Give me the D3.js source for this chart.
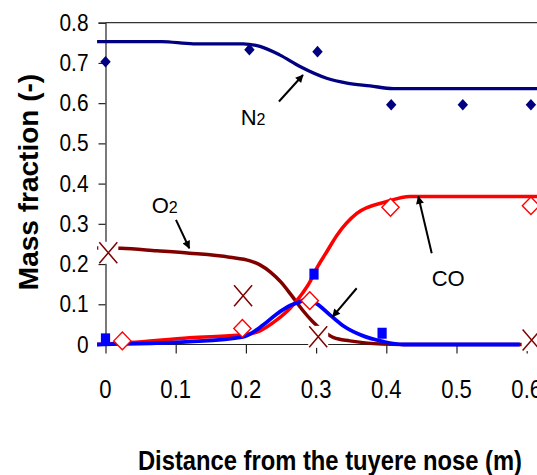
<!DOCTYPE html>
<html>
<head>
<meta charset="utf-8">
<script src="https://cdn.jsdelivr.net/npm/d3@7/dist/d3.min.js"></script>
<style>
  html, body { margin: 0; padding: 0; background: #fff; }
  svg { display: block; }
  text { font-family: "Liberation Sans", Arial, sans-serif; fill: #000; }
</style>
</head>
<body>
<script>
// ---------- data ----------
const xTicks = [0, 0.1, 0.2, 0.3, 0.4, 0.5, 0.6];
const xTickLabels = ["0", "0.1", "0.2", "0.3", "0.4", "0.5", "0.6"];
const yTicks = [0, 0.1, 0.2, 0.3, 0.4, 0.5, 0.6, 0.7, 0.8];
const yTickLabels = ["0", "0.1", "0.2", "0.3", "0.4", "0.5", "0.6", "0.7", "0.8"];

// model curves
const n2ModelX = [-0.012, 0.08, 0.125, 0.196, 0.22, 0.248, 0.277, 0.315, 0.344, 0.377, 0.41, 0.62];
const n2ModelY = [0.753, 0.753, 0.7475, 0.7475, 0.741, 0.72, 0.691, 0.662, 0.650, 0.643, 0.636, 0.636];

const o2ModelX = [-0.012, 0.022, 0.073, 0.12, 0.177, 0.206, 0.22, 0.235, 0.25, 0.265, 0.28, 0.295, 0.31, 0.325, 0.348, 0.395, 0.42, 0.62];
const o2ModelY = [0.240, 0.239, 0.233, 0.227, 0.217, 0.208, 0.198, 0.180, 0.155, 0.122, 0.087, 0.057, 0.033, 0.017, 0.009, 0.001, 0.0, 0.0];

const coModelX = [-0.012, 0.035, 0.12, 0.196, 0.22, 0.244, 0.263, 0.277, 0.291, 0.301, 0.315, 0.329, 0.358, 0.40, 0.434, 0.62];
const coModelY = [0.0, 0.005, 0.017, 0.024, 0.034, 0.061, 0.090, 0.119, 0.155, 0.190, 0.230, 0.270, 0.326, 0.355, 0.368, 0.368];

const co2ModelX = [-0.012, 0.12, 0.196, 0.225, 0.244, 0.263, 0.277, 0.284, 0.301, 0.32, 0.339, 0.363, 0.396, 0.424, 0.59];
const co2ModelY = [0.0, 0.007, 0.019, 0.049, 0.076, 0.097, 0.106, 0.111, 0.101, 0.073, 0.046, 0.024, 0.007, 0.0, 0.0];

// measurements
const n2ExpX = [0, 0.205, 0.302, 0.407, 0.509, 0.606];
const n2ExpY = [0.703, 0.733, 0.728, 0.596, 0.596, 0.596];
const o2ExpX = [0.004, 0.196, 0.303, 0.607];
const o2ExpY = [0.228, 0.121, 0.019, 0.011];
const coExpX = [0.024, 0.195, 0.291, 0.406, 0.606];
const coExpY = [0.009, 0.040, 0.109, 0.341, 0.345];
const co2ExpX = [0, 0.297, 0.394];
const co2ExpY = [0.014, 0.175, 0.028];

// annotations (data coordinates)
const labelNames = ["N", "O", "CO"];
const labelSubs = ["2", "2", ""];
const labelX = [0.1926, 0.0658, 0.4647];
const labelY = [0.546, 0.328, 0.1455];
const arrowFromX = [0.2471, 0.1004, 0.4647, 0.3578];
const arrowFromY = [0.604, 0.3097, 0.2269, 0.1398];
const arrowToX = [0.2813, 0.1194, 0.4456, 0.3236];
const arrowToY = [0.670, 0.2393, 0.3677, 0.0692];

// ---------- chart ----------
const W = 537, H = 475;
const svg = d3.select("body").append("svg").attr("width", W).attr("height", H);

const x = d3.scaleLinear().domain([0, 0.62]).range([105.5, 105.5 + 702 * 0.62]);
const y = d3.scaleLinear().domain([0, 0.8]).range([344.5, 22.7]);

// axes
const yAxis = svg.append("g").attr("transform", `translate(${x(0)},0)`)
  .call(d3.axisLeft(y).tickValues(yTicks).tickSize(7).tickFormat(""));
const xAxis = svg.append("g").attr("transform", `translate(0,${y(0)})`)
  .call(d3.axisBottom(x).tickValues(xTicks).tickSize(9).tickFormat(""));
[xAxis, yAxis].forEach(g => {
  g.select(".domain").attr("stroke", "#222").attr("stroke-width", 1.2);
  g.selectAll(".tick line").attr("stroke", "#222").attr("stroke-width", 1.2);
});
xAxis.select(".domain").attr("d", `M${x(0)},0H${W + 5}`);
// top border
svg.append("line").attr("x1", x(0)).attr("x2", W + 5)
  .attr("y1", y(0.8)).attr("y2", y(0.8)).attr("stroke", "#333").attr("stroke-width", 1.2);

// tick labels
svg.append("g").selectAll("text").data(yTicks).join("text")
  .attr("transform", d => `translate(${x(0) - 17},${y(d) + 8}) scale(0.87,1)`)
  .attr("text-anchor", "end").attr("font-size", 24)
  .text((d, i) => yTickLabels[i]);
svg.append("g").selectAll("text").data(xTicks).join("text")
  .attr("transform", d => `translate(${x(d)},398) scale(0.85,1)`)
  .attr("text-anchor", "middle").attr("font-size", 26)
  .text((d, i) => xTickLabels[i]);

// axis titles
svg.append("text")
  .attr("transform", `translate(330,469.5) scale(0.88,1)`)
  .attr("text-anchor", "middle").attr("font-size", 27).attr("font-weight", "bold")
  .text("Distance from the tuyere nose (m)");
svg.append("text")
  .attr("transform", `translate(37.5,182) rotate(-90)`)
  .attr("text-anchor", "middle").attr("font-size", 28).attr("font-weight", "bold")
  .text("Mass fraction (-)");

// model lines
const line = d3.line().x(d => x(d[0])).y(d => y(d[1])).curve(d3.curveMonotoneX);
const zip = (a, b) => a.map((v, i) => [v, b[i]]);
const series = [
  [n2ModelX, n2ModelY, "#000080", 3.3],
  [o2ModelX, o2ModelY, "#800000", 3.5],
  [coModelX, coModelY, "#ff0000", 3.5],
  [co2ModelX, co2ModelY, "#0000ff", 3.8]
];
series.forEach(([xs, ys, c, w]) => {
  svg.append("path").attr("d", line(zip(xs, ys)))
    .attr("fill", "none").attr("stroke", c).attr("stroke-width", w)
    .attr("stroke-linejoin", "round");
});

// markers
const diamond = (hw, hh) => `M0,${-hh}L${hw},0L0,${hh}L${-hw},0Z`;
// N2 filled navy diamonds
svg.append("g").selectAll("path").data(zip(n2ExpX, n2ExpY)).join("path")
  .attr("transform", d => `translate(${x(d[0])},${y(d[1])})`)
  .attr("d", diamond(5.2, 5.8)).attr("fill", "#000080");
// O2 crosses with white box
const o2g = svg.append("g").selectAll("g").data(zip(o2ExpX, o2ExpY)).join("g")
  .attr("transform", d => `translate(${x(d[0])},${y(d[1])})`);
o2g.append("rect").attr("x", -10).attr("y", -11).attr("width", 20).attr("height", 22).attr("fill", "#fff");
o2g.append("path").attr("d", "M-9,-10.5L9,10.5M9,-10.5L-9,10.5")
  .attr("stroke", "#800000").attr("stroke-width", 1.5).attr("fill", "none");
// CO2 filled blue squares
svg.append("g").selectAll("rect").data(zip(co2ExpX, co2ExpY)).join("rect")
  .attr("x", d => x(d[0]) - 4.6).attr("y", d => y(d[1]) - 5.5)
  .attr("width", 9.2).attr("height", 11).attr("fill", "#0000ff");
// CO open red diamonds
svg.append("g").selectAll("path").data(zip(coExpX, coExpY)).join("path")
  .attr("transform", d => `translate(${x(d[0])},${y(d[1])})`)
  .attr("d", diamond(8.6, 8.8)).attr("fill", "#fff").attr("stroke", "#ff0000").attr("stroke-width", 1.4);

// annotation arrows
svg.append("defs").append("marker").attr("id", "ah")
  .attr("viewBox", "0 0 10 10").attr("refX", 9).attr("refY", 5)
  .attr("markerWidth", 10).attr("markerHeight", 8).attr("markerUnits", "userSpaceOnUse")
  .attr("orient", "auto")
  .append("path").attr("d", "M0,0L10,5L0,10Z").attr("fill", "#000");
svg.append("g").selectAll("line").data(arrowFromX).join("line")
  .attr("x1", (d, i) => x(arrowFromX[i])).attr("y1", (d, i) => y(arrowFromY[i]))
  .attr("x2", (d, i) => x(arrowToX[i])).attr("y2", (d, i) => y(arrowToY[i]))
  .attr("stroke", "#000").attr("stroke-width", 2).attr("marker-end", "url(#ah)");

// annotation labels
const lab = svg.append("g").selectAll("text").data(labelNames).join("text")
  .attr("x", (d, i) => x(labelX[i])).attr("y", (d, i) => y(labelY[i]))
  .attr("font-size", 22);
lab.append("tspan").text(d => d);
lab.append("tspan").attr("font-size", 16).text((d, i) => labelSubs[i]);
</script>
</body>
</html>
